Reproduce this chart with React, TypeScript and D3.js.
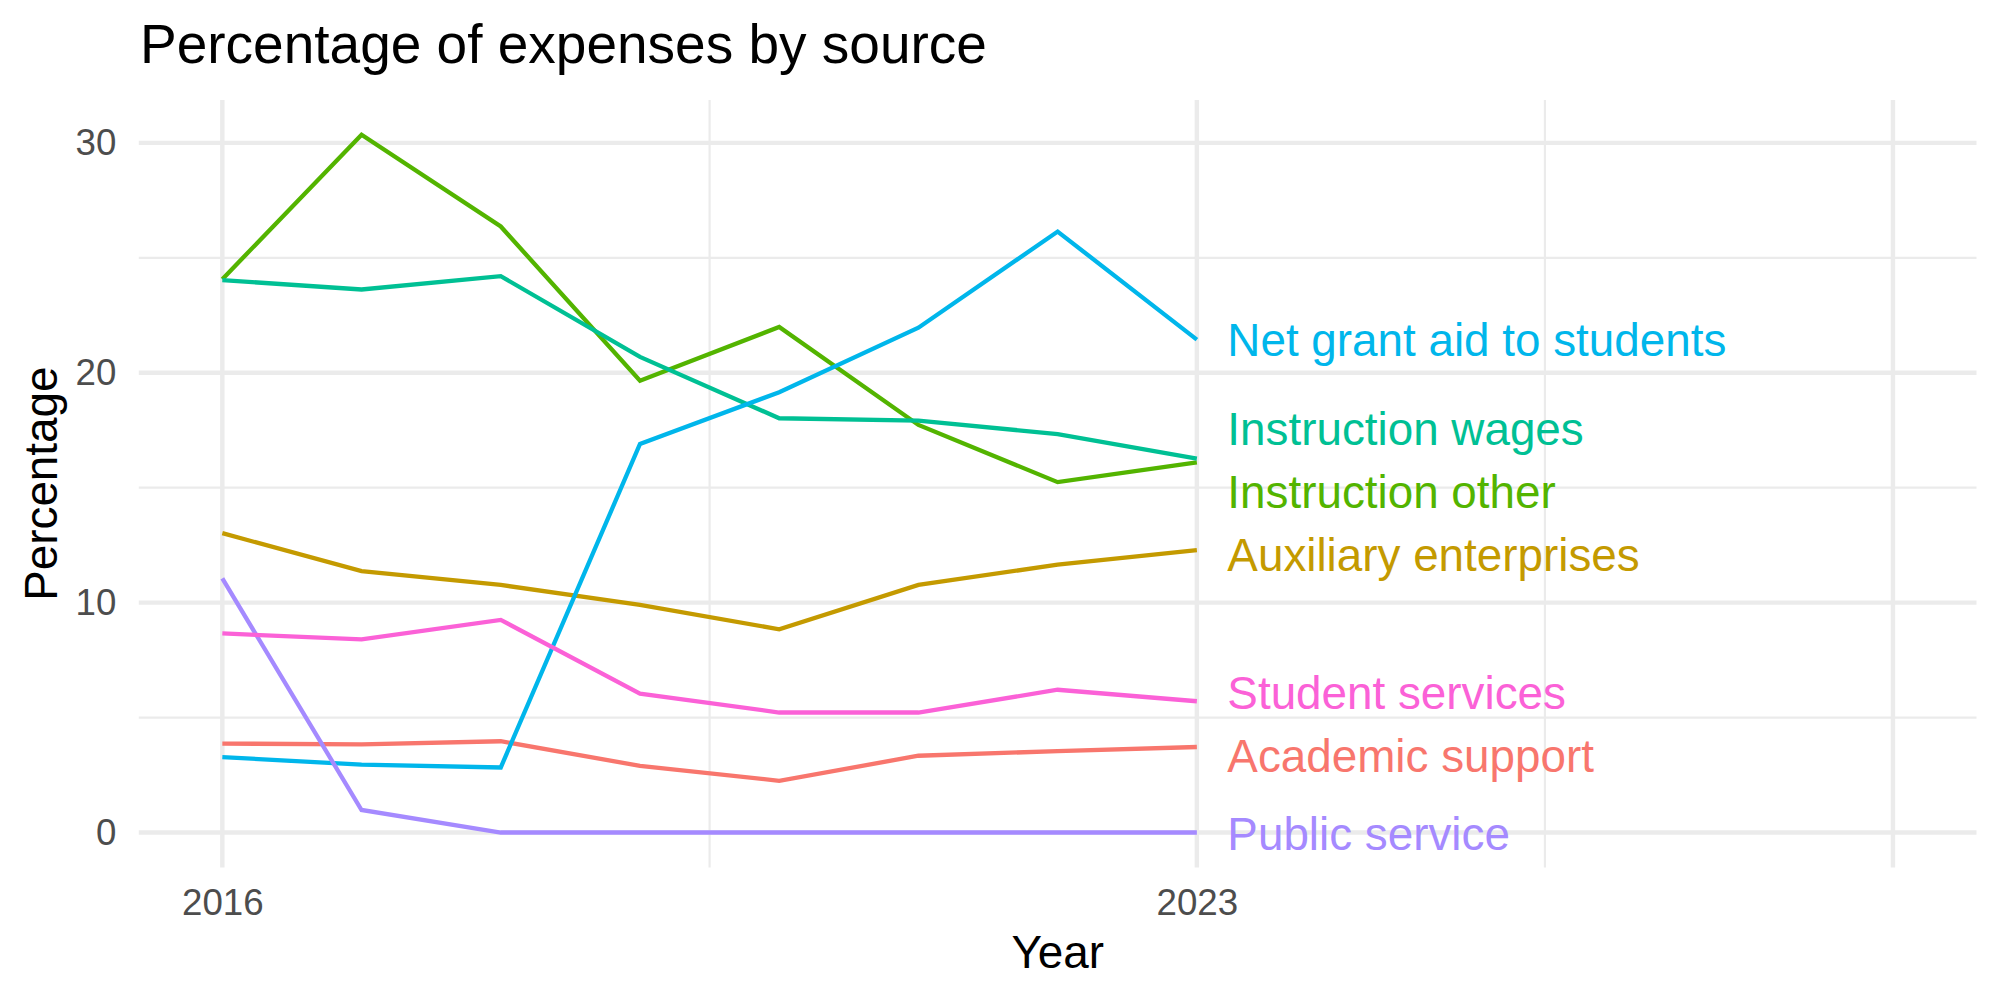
import React, { useRef, useEffect } from "react";
import { select, scaleLinear, line, axisLeft, axisBottom, max } from "d3";

// expense share by source, 2016-2023
const years = [2016, 2017, 2018, 2019, 2020, 2021, 2022, 2023];
const sources = [
  "Academic support",
  "Auxiliary enterprises",
  "Instruction other",
  "Instruction wages",
  "Net grant aid to students",
  "Public service",
  "Student services",
];
const academicSupport = [3.87, 3.83, 3.97, 2.9, 2.25, 3.34, 3.54, 3.72];
const auxiliaryEnterprises = [13.02, 11.37, 10.77, 9.9, 8.84, 10.77, 11.65, 12.28];
const instructionOther = [24.07, 30.35, 26.36, 19.65, 21.99, 17.73, 15.24, 16.1];
const instructionWages = [24.03, 23.62, 24.2, 20.69, 18.02, 17.92, 17.33, 16.26];
const netGrantAid = [3.28, 2.95, 2.83, 16.9, 19.15, 21.96, 26.14, 21.44];
const publicService = [11.05, 0.98, 0, 0, 0, 0, 0, 0];
const studentServices = [8.66, 8.4, 9.25, 6.04, 5.22, 5.22, 6.21, 5.71];

// label heights after de-overlapping (same order as sources)
const labelValues = [3.33, 12.1, 14.84, 17.56, 21.42, -0.05, 6.09];

const colors = ["#F8766D", "#C49A00", "#53B400", "#00C094", "#00B6EB", "#A58AFF", "#FB61D7"];

const xBreaks = [2016, 2023, 2028];
const xBreakLabels = ["2016", "2023", ""];
const xMinor = [2019.5, 2025.5];
const yBreaks = [0, 10, 20, 30];
const yMinor = [5, 15, 25];

const W = 2000;
const H = 1000;
const FONT = "'Liberation Sans', Arial, Helvetica, sans-serif";

function App() {
  const svgRef = useRef(null);

  useEffect(() => {
    const svg = select(svgRef.current);
    svg.selectAll("*").remove();

    const series = [
      academicSupport,
      auxiliaryEnterprises,
      instructionOther,
      instructionWages,
      netGrantAid,
      publicService,
      studentServices,
    ];

    const left = 138.8;
    const right = 1976.5;
    const top = 99.9;
    const bottom = 867.4;

    // x limits 2016..2028 with 5% expansion
    const xLo = 2016, xHi = 2028;
    const xPad = (xHi - xLo) * 0.05;
    const x = scaleLinear().domain([xLo - xPad, xHi + xPad]).range([left, right]);

    const yMax = max(series.flat());
    const yPad = yMax * 0.05;
    const y = scaleLinear().domain([-yPad, yMax + yPad]).range([bottom, top]);

    const grid = svg.append("g");
    grid.selectAll(".xminor").data(xMinor).join("line")
      .attr("x1", (d) => x(d)).attr("x2", (d) => x(d))
      .attr("y1", top).attr("y2", bottom)
      .attr("stroke", "#EBEBEB").attr("stroke-width", 2.2);
    grid.selectAll(".yminor").data(yMinor).join("line")
      .attr("y1", (d) => y(d)).attr("y2", (d) => y(d))
      .attr("x1", left).attr("x2", right)
      .attr("stroke", "#EBEBEB").attr("stroke-width", 2.2);
    grid.selectAll(".xmajor").data(xBreaks).join("line")
      .attr("x1", (d) => x(d)).attr("x2", (d) => x(d))
      .attr("y1", top).attr("y2", bottom)
      .attr("stroke", "#EBEBEB").attr("stroke-width", 4.4);
    grid.selectAll(".ymajor").data(yBreaks).join("line")
      .attr("y1", (d) => y(d)).attr("y2", (d) => y(d))
      .attr("x1", left).attr("x2", right)
      .attr("stroke", "#EBEBEB").attr("stroke-width", 4.4);

    // axes: text only, no lines or ticks
    const yAxis = axisLeft(y).tickValues(yBreaks).tickSize(0).tickPadding(22.5);
    const gy = svg.append("g").attr("transform", `translate(${left},0)`).call(yAxis);
    const xAxis = axisBottom(x).tickValues(xBreaks)
      .tickFormat((d, i) => xBreakLabels[i]).tickSize(0).tickPadding(22);
    const gx = svg.append("g").attr("transform", `translate(0,${bottom})`).call(xAxis);
    [gx, gy].forEach((g) => {
      g.select(".domain").remove();
      g.selectAll("text")
        .attr("fill", "#4D4D4D")
        .style("font-family", FONT)
        .style("font-size", "36.7px");
    });

    const path = line()
      .x((d, i) => x(years[i]))
      .y((d) => y(d));

    svg.append("g").selectAll("path").data(series).join("path")
      .attr("d", (d) => path(d))
      .attr("fill", "none")
      .attr("stroke", (d, i) => colors[i])
      .attr("stroke-width", 4.3)
      .attr("stroke-linejoin", "miter");

    svg.append("g").selectAll("text").data(sources).join("text")
      .attr("x", x(2023) + 30.5)
      .attr("y", (d, i) => y(labelValues[i]))
      .attr("dy", "0.358em")
      .attr("fill", (d, i) => colors[i])
      .style("font-family", FONT)
      .style("font-size", "45.8px")
      .text((d) => d);

    svg.append("text")
      .attr("x", 140).attr("y", 63)
      .style("font-family", FONT).style("font-size", "55px")
      .attr("fill", "#000")
      .text("Percentage of expenses by source");

    svg.append("text")
      .attr("x", (left + right) / 2).attr("y", 968)
      .attr("text-anchor", "middle")
      .style("font-family", FONT).style("font-size", "45.8px")
      .text("Year");

    svg.append("text")
      .attr("transform", `translate(57,${(top + bottom) / 2}) rotate(-90)`)
      .attr("text-anchor", "middle")
      .style("font-family", FONT).style("font-size", "45.8px")
      .text("Percentage");
  }, []);

  return (
    <svg
      ref={svgRef}
      width={W}
      height={H}
      style={{ position: "absolute", left: 0, top: 0, background: "#fff" }}
    />
  );
}

export default App;
